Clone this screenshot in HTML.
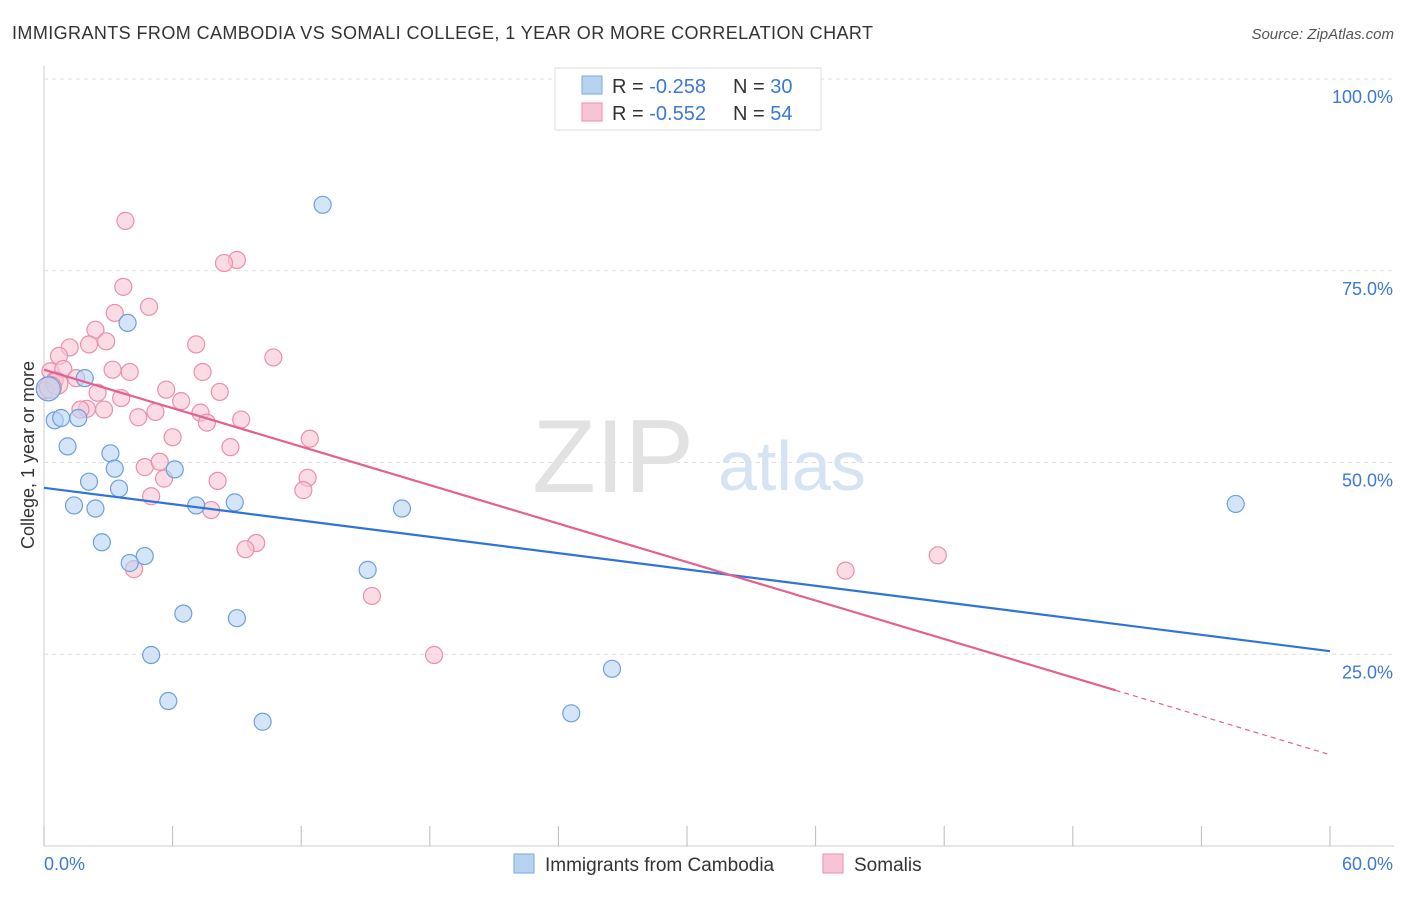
<!DOCTYPE html>
<html><head><meta charset="utf-8"><style>
body{margin:0;background:#fff;font-family:"Liberation Sans",sans-serif;}
svg text{font-family:"Liberation Sans",sans-serif;}
</style></head><body>
<svg width="1406" height="892" xmlns="http://www.w3.org/2000/svg">
<text x="12" y="39" font-size="18" fill="#333" textLength="861" lengthAdjust="spacing">IMMIGRANTS FROM CAMBODIA VS SOMALI COLLEGE, 1 YEAR OR MORE CORRELATION CHART</text>
<text x="1394" y="39" font-size="15" fill="#555" font-style="italic" text-anchor="end">Source: ZipAtlas.com</text>
<g id="grid"></g>
<text x="694" y="492" font-size="104" fill="#e2e2e2" text-anchor="end" font-family="Liberation Serif">ZIP</text>
<text x="718" y="490" font-size="70" fill="#d6e3f3">atlas</text>
<text x="34" y="455" font-size="18" fill="#333" text-anchor="middle" transform="rotate(-90 34 455)">College, 1 year or more</text>
<g id="marks"></g>
<g>
<rect x="555" y="68" width="266" height="62" fill="#fff" stroke="#ddd"/>
<rect x="582" y="76" width="20" height="18" fill="#b8d3f2" stroke="#7aa8e0"/>
<text x="612" y="93" font-size="20" fill="#333">R = <tspan fill="#3b78d8">-0.258</tspan></text>
<text x="733" y="93" font-size="20" fill="#333">N = <tspan fill="#3b78d8">30</tspan></text>
<rect x="582" y="103" width="20" height="18" fill="#f8c4d4" stroke="#e98fae"/>
<text x="612" y="120" font-size="20" fill="#333">R = <tspan fill="#3b78d8">-0.552</tspan></text>
<text x="733" y="120" font-size="20" fill="#333">N = <tspan fill="#3b78d8">54</tspan></text>
</g>
<g>
<rect x="514" y="854" width="20" height="19" fill="#b8d3f2" stroke="#7aa8e0"/>
<text x="545" y="871" font-size="19" fill="#333">Immigrants from Cambodia</text>
<rect x="823" y="854" width="20" height="19" fill="#f8c4d4" stroke="#e98fae"/>
<text x="854" y="871" font-size="19" fill="#333">Somalis</text>
</g>
</svg>
<script>
const xTicks=[0,6,12,18,24,30,36,42,48,54,60];
const yTicks=[25,50,75,100];
const blueX=[13.0,3.9,1.9,0.5,0.8,1.6,1.1,3.1,3.3,6.1,2.1,3.5,1.4,2.4,7.1,8.9,2.7,4.7,4.0,6.5,9.0,5.0,5.8,10.2,15.1,16.7,26.5,24.6,55.6,0.2];
const blueY=[83.6,68.2,61.0,55.5,55.8,55.8,52.1,51.2,49.2,49.1,47.5,46.6,44.4,44.0,44.4,44.8,39.6,37.8,36.9,30.3,29.7,24.9,18.9,16.2,36.0,44.0,23.1,17.3,44.6,59.6];
const pinkX=[3.8,9.0,8.4,3.7,4.9,3.3,2.4,2.9,2.1,7.1,1.2,0.7,10.7,0.3,0.9,3.2,4.0,7.4,1.5,0.5,0.05,5.7,8.2,2.5,3.6,6.4,2.0,2.8,1.7,5.2,7.3,4.4,9.2,7.6,6.0,8.7,12.4,4.7,5.4,5.6,8.1,12.3,12.1,5.0,7.8,9.9,9.4,4.2,15.3,18.2,37.4,41.7,0.6,0.3];
const pinkY=[81.5,76.4,76.0,72.9,70.3,69.5,67.3,65.8,65.4,65.4,65.0,63.9,63.7,61.9,62.2,62.1,61.8,61.8,61.0,60.7,59.4,59.5,59.2,59.1,58.4,58.0,57.0,56.9,56.9,56.6,56.5,55.9,55.6,55.2,53.3,52.0,53.1,49.4,50.1,47.9,47.6,48.0,46.4,45.6,43.8,39.5,38.7,36.1,32.6,24.9,35.9,37.9,60.3,59.8];
const blueLine=[46.7,25.4];
const pinkLine=[62.1,20.3,11.9];
const pinkSolidEnd=50;
const NS='http://www.w3.org/2000/svg';
const X=v=>44+v*(1330-44)/60;
const Y=v=>846-v*(846-79)/100;
function mk(t,a,p){const e=document.createElementNS(NS,t);for(const k in a)e.setAttribute(k,a[k]);p.appendChild(e);return e;}
const grid=document.getElementById('grid'),marks=document.getElementById('marks');
const ax=mk('line',{x1:44,y1:66,x2:44,y2:846,stroke:'#ccc'},grid);


const bx=mk('line',{x1:44,y1:846,x2:1394,y2:846,stroke:'#ccc'},grid);


yTicks.forEach(v=>{
 const g=mk('line',{x1:44,y1:Y(v),x2:1394,y2:Y(v),stroke:'#ddd','stroke-dasharray':'4 4'},grid);
 
 
 const t=mk('text',{x:1393,y:Y(v)+24,'font-size':18,fill:'#3b78d8','text-anchor':'end'},grid);
 t.textContent=v.toFixed(1)+'%';
 
 
});
xTicks.forEach(v=>{
 const l=mk('line',{x1:X(v),y1:826,x2:X(v),y2:846,stroke:'#bbb'},grid);
 
 
});
[[0,'start',44],[60,'end',1393]].forEach(([v,a,x])=>{
 const t=mk('text',{x:x,y:870,'font-size':18,fill:'#3b78d8','text-anchor':a},grid);
 t.textContent=v.toFixed(1)+'%';
 
 
});
pinkX.forEach((x,i)=>{
 const c=mk('circle',{cx:X(x),cy:Y(pinkY[i]),r:i>=52?11:8.5,fill:'#f8c4d4','fill-opacity':0.6,stroke:'#e98fae','stroke-width':1.2},marks);
 
 
});
blueX.forEach((x,i)=>{
 const c=mk('circle',{cx:X(x),cy:Y(blueY[i]),r:i==29?12:8.5,fill:'#b8d3f2','fill-opacity':0.6,stroke:'#6f9fdc','stroke-width':1.2},marks);
 
 
});
const bl=mk('line',{x1:X(0),y1:Y(blueLine[0]),x2:X(60),y2:Y(blueLine[1]),stroke:'#2f74d6','stroke-width':2.2},marks);


const pl=mk('line',{x1:X(0),y1:Y(pinkLine[0]),x2:X(pinkSolidEnd),y2:Y(pinkLine[1]),stroke:'#e4608f','stroke-width':2.2},marks);


const pd=mk('line',{x1:X(pinkSolidEnd),y1:Y(pinkLine[1]),x2:X(60),y2:Y(pinkLine[2]),stroke:'#e4608f','stroke-width':1.2,'stroke-dasharray':'5 4'},marks);


</script>
</body></html>
